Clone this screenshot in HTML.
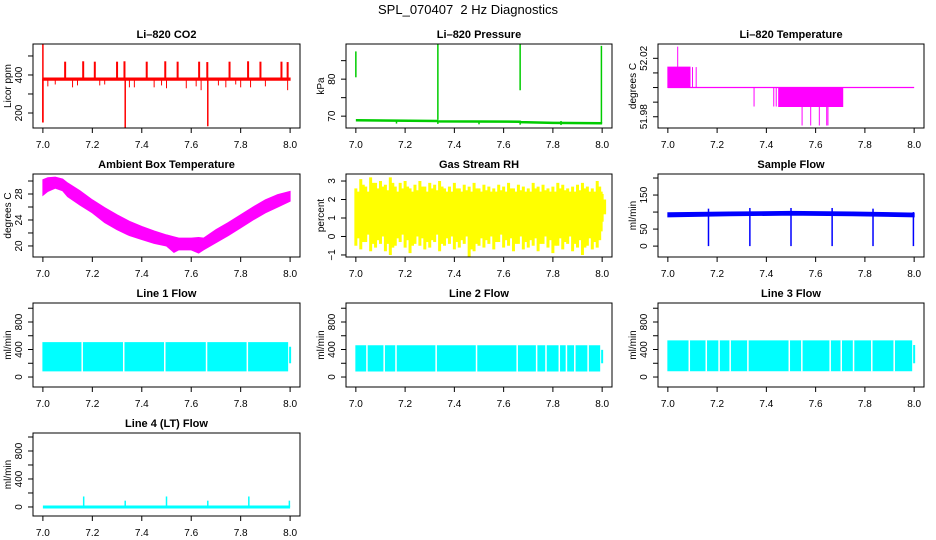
<!DOCTYPE html>
<html><head><meta charset="utf-8"><style>
html,body{margin:0;padding:0;background:#fff;}
svg{display:block;font-family:"Liberation Sans",Arial,sans-serif;}
</style></head><body>
<svg id="chart" width="936" height="540" viewBox="0 0 936 540">
<text x="468" y="14" text-anchor="middle" font-size="13">SPL_070407&#160; 2 Hz Diagnostics</text>
</svg>
<script>
// ---- data ----
const xTicks = [7.0, 7.2, 7.4, 7.6, 7.8, 8.0];
const xTickLabels = ["7.0", "7.2", "7.4", "7.6", "7.8", "8.0"];

// CO2
const co2UpX = [7.09,7.163,7.21,7.30,7.33,7.42,7.495,7.545,7.632,7.665,7.755,7.83,7.88,7.965,7.99];
const co2UpV = [470,472,470,470,472,470,472,470,470,468,470,472,470,470,468];
const co2DownX = [7.0,7.333,7.667];
const co2DownV = [150,120,130];
const co2DipX = [7.02,7.05,7.12,7.14,7.23,7.25,7.35,7.37,7.45,7.48,7.5,7.58,7.62,7.64,7.71,7.74,7.78,7.80,7.84,7.9,7.99];
const co2DipV = [340,350,335,345,345,350,335,335,335,345,330,330,340,320,345,335,350,335,335,340,320];
const co2BandLo = 372, co2BandHi = 384;

// Pressure
const presBaseX = [7.0,7.33,7.333,7.667,7.67,7.8,8.0];
const presBaseV = [68.9,68.7,68.6,68.5,68.4,68.2,68.1];
const presSpX = [7.0,7.333,7.667,7.997];
const presSpLo = [80.5,69,77,68];
const presSpHi = [87.5,89.5,90,89];
const presDipX = [7.165,7.5,7.833,7.333,7.667];
const presDipV = [68,67.8,67.6,67.9,67.7];

// Li-820 temperature
const tBase = 52.00;
const tBlock1 = [7.0, 7.09, 52.014];
const tBlock2 = [7.45, 7.71, 51.987];
const tUpX = [7.04,7.10,7.115];
const tUpV = [52.028,52.014,52.014];
const tDownX = [7.35,7.43,7.44,7.545,7.58,7.615,7.645,7.65];
const tDownV = [51.987,51.987,51.987,51.974,51.974,51.974,51.974,51.974];

// Ambient box temperature
const ambX  = [7.0,7.02,7.05,7.08,7.1,7.15,7.2,7.25,7.3,7.35,7.4,7.45,7.5,7.53,7.55,7.6,7.63,7.65,7.7,7.75,7.8,7.85,7.9,7.95,8.0];
const ambHi = [30.2,30.5,30.6,30.3,29.7,28.5,27.1,25.9,24.8,23.8,23.0,22.3,21.7,21.4,21.2,21.2,21.3,21.2,22.5,23.6,24.8,26.0,27.1,27.9,28.4];
const ambLo = [27.8,28.4,28.9,28.5,27.6,26.3,25.1,23.6,22.5,21.6,21.0,20.4,20.0,19.0,19.4,19.4,18.9,19.4,20.5,21.6,22.8,24.0,25.1,26.0,26.9];

// Gas stream RH (0.02 bins)
const rhHi = [2.6,3.1,2.7,3.2,2.9,3.0,2.8,3.2,2.7,2.9,3.0,2.6,2.8,3.0,2.7,2.9,2.8,3.0,2.6,2.7,2.9,2.6,2.8,2.7,2.9,2.6,2.8,2.7,2.6,2.8,2.7,2.9,2.6,2.8,2.7,2.6,2.9,2.7,2.8,2.6,2.7,2.9,2.8,2.6,2.7,2.8,2.9,2.7,2.6,3.0,2.3];
const rhLo = [-0.5,-0.7,-0.3,-0.8,-0.6,-0.4,-0.8,-1.0,-0.5,-0.3,-0.6,-0.9,-0.4,-0.5,-0.7,-0.6,-0.3,-0.8,-0.5,-0.4,-0.7,-0.6,-0.4,-1.1,-0.8,-0.5,-0.6,-0.4,-0.7,-0.3,-0.6,-0.5,-0.8,-0.4,-0.7,-0.6,-0.5,-0.8,-0.4,-0.6,-0.9,-0.5,-0.7,-0.4,-0.8,-0.6,-1.0,-0.5,-0.7,-0.6,0.8];

// Sample flow
const sampX = [7.0,7.25,7.5,7.75,8.0];
const sampHi = [98,100,102,100,97];
const sampLo = [86,89,91,89,86];
const sampDipX = [7.165,7.333,7.5,7.667,7.833,7.997];
const sampDipHi = [110,112,112,112,110,100];

// Line flows
const l1Top = 500, l1Bot = 90, l1Gaps = [7.159,7.327,7.493,7.662,7.827];
const l2Top = 455, l2Bot = 87, l2Gaps = [7.045,7.115,7.163,7.326,7.49,7.655,7.734,7.772,7.826,7.855,7.889,7.943];
const l3Top = 525, l3Bot = 92, l3Gaps = [7.087,7.156,7.208,7.253,7.325,7.493,7.544,7.659,7.704,7.754,7.828,7.919];
const l4SpX = [7.165,7.333,7.5,7.667,7.833,7.997];
const l4SpV = [150,90,150,90,150,90];

// ---- drawing ----
const svg = document.getElementById('chart');
const NS = 'http://www.w3.org/2000/svg';
function el(tag, attrs, parent) {
  const e = document.createElementNS(NS, tag);
  for (const k in attrs) e.setAttribute(k, attrs[k]);
  (parent || svg).appendChild(e);
  return e;
}
const cols = [{l:33,r:300},{l:346,r:612},{l:658,r:924}];
const rows = [{t:44,b:128},{t:174,b:257},{t:303,b:387},{t:433,b:516}];

function panel(name, title, ylab, c, r, ymin, ymax, yt, ytl) {
  const C = cols[c], R = rows[r];
  const g = el('g', {});
  
  
  const w = C.r - C.l, pad = w / 1.08 * 0.04;
  const x0 = C.l + pad, x1 = C.r - pad;
  const X = v => x0 + (v - 7) * (x1 - x0);
  const Y = v => R.b - (v - ymin) / (ymax - ymin) * (R.b - R.t);
  const plot = el('g', {}, g);
  
  
  const cp = 'clip' + name;
  const cl = el('clipPath', {id: cp}, g);
  el('rect', {x: C.l, y: R.t, width: w, height: R.b - R.t}, cl);
  plot.setAttribute('clip-path', 'url(#' + cp + ')');
  const box = el('rect', {x: C.l, y: R.t, width: w, height: R.b - R.t, fill: 'none', stroke: '#000', 'stroke-width': 1}, g);
  
  
  const t = el('text', {x: (C.l + C.r) / 2, y: R.t - 6, 'text-anchor': 'middle', 'font-size': 11, 'font-weight': 'bold'}, g);
  t.textContent = title;
  
  
  const xa = el('g', {}, g);
  
  
  xTicks.forEach((v, i) => {
    el('line', {x1: X(v), x2: X(v), y1: R.b, y2: R.b + 5, stroke: '#000'}, xa);
    const tx = el('text', {x: X(v), y: R.b + 20, 'text-anchor': 'middle', 'font-size': 10}, xa);
    tx.textContent = xTickLabels[i];
    
    
  });
  const ya = el('g', {}, g);
  
  
  yt.forEach((v, i) => {
    el('line', {x1: C.l - 5, x2: C.l, y1: Y(v), y2: Y(v), stroke: '#000'}, ya);
    if (ytl[i]) {
      const tx = el('text', {x: 0, y: 0, 'text-anchor': 'middle', 'font-size': 10, transform: 'translate(' + (C.l - 11) + ',' + Y(v) + ') rotate(-90)'}, ya);
      tx.textContent = ytl[i];
      
      
    }
  });
  const yl = el('text', {x: 0, y: 0, 'text-anchor': 'middle', 'font-size': 10, transform: 'translate(' + (C.l - 22) + ',' + (R.t + R.b) / 2 + ') rotate(-90)'}, ya);
  yl.textContent = ylab;
  
  
  return {X, Y, g: plot};
}
function vline(p, x, a, b, col, w) {
  el('line', {x1: p.X(x), x2: p.X(x), y1: p.Y(a), y2: p.Y(b), stroke: col, 'stroke-width': w || 1}, p.g);
}
function band(p, xs, hi, lo, col) {
  let pts = xs.map((x, i) => p.X(x) + ',' + p.Y(hi[i]));
  pts = pts.concat(xs.map((x, i) => p.X(x) + ',' + p.Y(lo[i])).reverse());
  return el('polygon', {points: pts.join(' '), fill: col, stroke: col}, p.g);
}

// CO2
let p = panel('co2-panel', 'Li\u2013820 CO2', 'Licor ppm', 0, 0, 121, 563, [200,300,400,500], ['200','','400','']);
band(p, [7.0, 8.0], [co2BandHi, co2BandHi], [co2BandLo, co2BandLo], '#ff0000');
vline(p, 7.0, co2DownV[0], 580, '#ff0000', 1.5);
co2DownX.forEach((x, i) => vline(p, x, co2DownV[i], 380, '#ff0000', 1.5));
co2UpX.forEach((x, i) => vline(p, x, 380, co2UpV[i], '#ff0000', 2));
co2DipX.forEach((x, i) => vline(p, x, co2DipV[i], 380, '#ff0000', 1));

// Pressure
p = panel('pressure-panel', 'Li\u2013820 Pressure', 'kPa', 1, 0, 66.8, 89.5, [70,75,80,85], ['70','','80','']);
el('polyline', {points: presBaseX.map((x, i) => p.X(x) + ',' + p.Y(presBaseV[i])).join(' '), fill: 'none', stroke: '#00cc00', 'stroke-width': 2.5}, p.g);
presSpX.forEach((x, i) => vline(p, x, presSpLo[i], presSpHi[i], '#00cc00', 1.5));
presDipX.forEach((x, i) => vline(p, x, presDipV[i], 68.7, '#00cc00', 1.5));

// Li-820 temperature
p = panel('li820-temperature-panel', 'Li\u2013820 Temperature', 'degrees C', 2, 0, 51.9723, 52.0298, [51.98,51.99,52.00,52.01,52.02], ['51.98','','','','52.02']);
band(p, [tBlock1[0], tBlock1[1]], [tBlock1[2], tBlock1[2]], [tBase, tBase], '#ff00ff');
band(p, [tBlock2[0], tBlock2[1]], [tBase, tBase], [tBlock2[2], tBlock2[2]], '#ff00ff');
el('line', {x1: p.X(7.0), x2: p.X(8.0), y1: p.Y(tBase), y2: p.Y(tBase), stroke: '#ff00ff', 'stroke-width': 1.2}, p.g);
tUpX.forEach((x, i) => vline(p, x, tBase, tUpV[i], '#ff00ff'));
tDownX.forEach((x, i) => vline(p, x, tDownV[i], tBase, '#ff00ff'));

// Ambient
p = panel('ambient-temperature-panel', 'Ambient Box Temperature', 'degrees C', 0, 1, 18.3, 31.08, [20,22,24,26,28,30], ['20','','24','','28','']);
band(p, ambX, ambHi, ambLo, '#ff00ff');

// RH
p = panel('gas-stream-rh-panel', 'Gas Stream RH', 'percent', 1, 1, -1.11, 3.38, [-1,0,1,2,3], ['\u22121','0','1','2','3']);
band(p, [7.0, 8.0], [2.4, 2.4], [0.3, 0.3], '#ffff00');
rhHi.forEach((h, i) => {
  const x = 7.0 + i * 0.02;
  vline(p, x, rhLo[i], h, '#ffff00', 3);
  vline(p, x + 0.01, rhLo[i] + 0.4, h - 0.3, '#ffff00', 3);
});

// Sample flow
p = panel('sample-flow-panel', 'Sample Flow', 'ml/min', 2, 1, -32, 211.8, [0,50,100,150,200], ['0','50','','150','']);
band(p, sampX, sampHi, sampLo, '#0000ff');
sampDipX.forEach((x, i) => vline(p, x, 0, sampDipHi[i], '#0000ff', 1.5));

// Line flows
function lineFlow(name, title, c, r, top, bot, gaps) {
  const q = panel(name, title, 'ml/min', c, r, -145, 1076, [0,200,400,600,800,1000], ['0','','400','','800','']);
  band(q, [7.0, 7.99], [top, top], [bot, bot], '#00ffff');
  vline(q, 8.0, 200, top - 60, '#00ffff', 2);
  gaps.forEach(x => vline(q, x, bot - 10, top + 10, '#ffffff', 1.5));
}
lineFlow('line1-flow-panel', 'Line 1 Flow', 0, 2, l1Top, l1Bot, l1Gaps);
lineFlow('line2-flow-panel', 'Line 2 Flow', 1, 2, l2Top, l2Bot, l2Gaps);
lineFlow('line3-flow-panel', 'Line 3 Flow', 2, 2, l3Top, l3Bot, l3Gaps);

// Line 4
p = panel('line4-flow-panel', 'Line 4 (LT) Flow', 'ml/min', 0, 3, -129, 1057, [0,200,400,600,800,1000], ['0','','400','','800','']);
el('line', {x1: p.X(7.0), x2: p.X(8.0), y1: p.Y(0), y2: p.Y(0), stroke: '#00ffff', 'stroke-width': 3}, p.g);
l4SpX.forEach((x, i) => vline(p, x, 0, l4SpV[i], '#00ffff', 1.5));
</script>
</body></html>
